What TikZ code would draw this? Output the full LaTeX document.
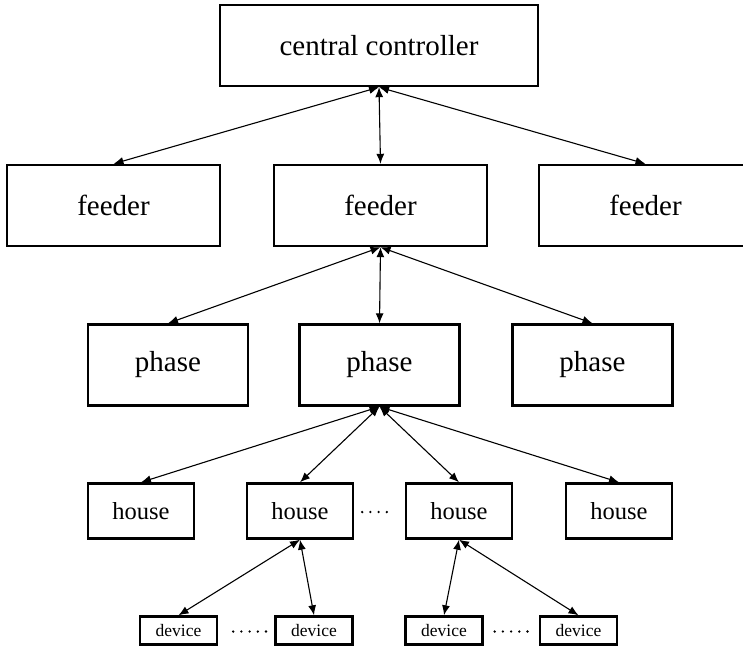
\documentclass[tikz,border=0pt]{standalone}
\usepackage{fontspec}
\setmainfont{Liberation Serif}
\usetikzlibrary{arrows.meta}

\tikzset{
  box/.style={draw, line width=2.4pt, inner sep=0pt, align=center},
  bigbox/.style={box, font=\fontsize{29}{34}\selectfont},
  centralbox/.style={bigbox, minimum width=318pt, minimum height=81pt},
  feederbox/.style={bigbox, minimum width=213pt, minimum height=81pt},
  phasebox/.style={bigbox, minimum width=160pt, minimum height=81pt},
  housebox/.style={box, font=\fontsize{24.5}{29}\selectfont, minimum width=106pt, minimum height=55pt},
  devicebox/.style={box, font=\fontsize{17.5}{21}\selectfont, minimum width=77pt, minimum height=28pt},
  link/.style={line width=1.1pt, {Latex[length=10pt,width=8pt]}-{Latex[length=10pt,width=8pt]}},
  dotrow/.style={line width=2.6pt, line cap=round, dash pattern=on 0pt off 8.2pt}
}

\begin{document}
\begin{tikzpicture}[x=1pt, y=-1pt]
  \clip (0,0) rectangle (743,645);

  % top level
  \node[centralbox] (cc) at (379,45.5) {central controller};

  % feeders
  \node[feederbox] (f1) at (113.5,205.5) {feeder};
  \node[feederbox] (f2) at (380.5,205.5) {feeder};
  \node[feederbox] (f3) at (645.5,205.5) {feeder};

  % phases
  \node[phasebox] (p1) at (168,365) {phase};
  \node[phasebox] (p2) at (379.5,365) {phase};
  \node[phasebox] (p3) at (592.5,365) {phase};

  % houses
  \node[housebox] (h1) at (141,511) {house};
  \node[housebox] (h2) at (300,511) {house};
  \node[housebox] (h3) at (459,511) {house};
  \node[housebox] (h4) at (619,511) {house};

  % devices
  \node[devicebox] (d1) at (178.5,630.5) {device};
  \node[devicebox] (d2) at (314,630.5) {device};
  \node[devicebox] (d3) at (444,630.5) {device};
  \node[devicebox] (d4) at (578.5,630.5) {device};

  % communication links
  \draw[link] (cc.south) -- (f1.north);
  \draw[link] (cc.south) -- (f2.north);
  \draw[link] (cc.south) -- (f3.north);

  \draw[link] (f2.south) -- (p1.north);
  \draw[link] (f2.south) -- (p2.north);
  \draw[link] (f2.south) -- (p3.north);

  \draw[link] (p2.south) -- (h1.north);
  \draw[link] (p2.south) -- (h2.north);
  \draw[link] (p2.south) -- (h3.north);
  \draw[link] (p2.south) -- (h4.north);

  \draw[link] (h2.south) -- (d1.north);
  \draw[link] (h2.south) -- (d2.north);
  \draw[link] (h3.south) -- (d3.north);
  \draw[link] (h3.south) -- (d4.north);

  % ellipsis dots between siblings
  \draw[dotrow] ([xshift=8pt,yshift=-1pt]h2.east) -- ([xshift=-11pt,yshift=-1pt]h3.west);
  \draw[dotrow] ([xshift=15pt,yshift=-1pt]d1.east) -- ([xshift=-8pt,yshift=-1pt]d2.west);
  \draw[dotrow] ([xshift=11pt,yshift=-1pt]d3.east) -- ([xshift=-11pt,yshift=-1pt]d4.west);
\end{tikzpicture}
\end{document}
